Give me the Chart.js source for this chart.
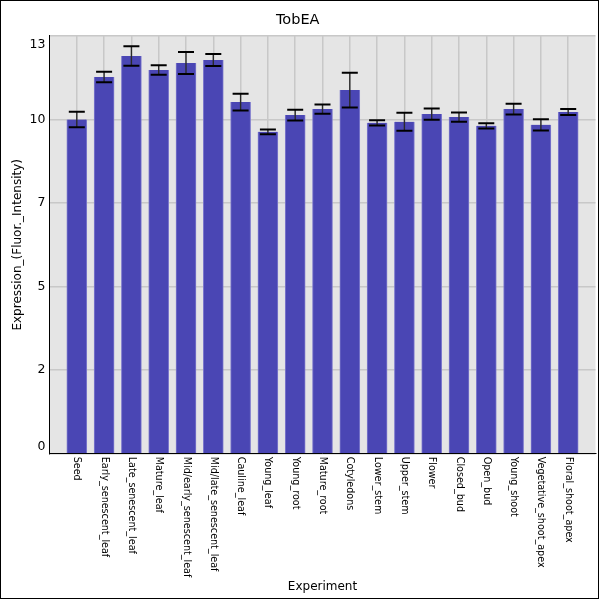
<!DOCTYPE html>
<html>
<head>
<meta charset="utf-8">
<script src="https://cdn.jsdelivr.net/npm/chart.js@4"></script>
<style>
  body { margin: 0; background: #fff; }
  canvas { display: block; }
</style>
</head>
<body>
<canvas id="graph_tobea" width="600" height="600"></canvas>
<script>
/*------------------------------*/
/*          DATA TobEA          */
/*------------------------------*/
var experiments = ['Seed', 'Early_senescent_leaf', 'Late_senescent_leaf', 'Mature_leaf',
  'Mid/early_senescent_leaf', 'Mid/late_senescent_leaf', 'Cauline_leaf', 'Young_leaf',
  'Young_root', 'Mature_root', 'Cotyledons', 'Lower_stem', 'Upper_stem', 'Flower',
  'Closed_bud', 'Open_bud', 'Young_shoot', 'Vegetative_shoot_apex', 'Floral_shoot_apex']

var expression = [10.0, 11.27, 11.9, 11.48, 11.69, 11.78, 10.52, 9.63, 10.13, 10.31,
  10.88, 9.9, 9.93, 10.16, 10.07, 9.81, 10.31, 9.84, 10.22]

var errors = [0.23, 0.16, 0.29, 0.14, 0.33, 0.18, 0.25, 0.07, 0.16, 0.14,
  0.52, 0.08, 0.27, 0.17, 0.14, 0.08, 0.16, 0.17, 0.09]

var yTickValues = [0, 2.5, 5, 7.5, 10, 12.5]
var yTickLabels = ['0', '2', '5', '7', '10', '13']

/*------------------------------*/
/*           PLUGINS            */
/*------------------------------*/
var plotBackground = {
  id: 'plotBackground',
  beforeDraw: function (chart) {
    var c = chart.ctx, a = chart.chartArea
    c.save()
    c.fillStyle = '#fff'
    c.fillRect(0, 0, chart.width, chart.height)
    c.fillStyle = '#e5e5e5'
    c.fillRect(a.left, a.top, a.right - a.left, a.bottom - a.top)
    c.restore()
  }
}

var errorBars = {
  id: 'errorBars',
  afterDatasetsDraw: function (chart) {
    var c = chart.ctx
    var y = chart.scales.y
    var meta = chart.getDatasetMeta(0)
    c.save()
    meta.data.forEach(function (bar, i) {
      var top = y.getPixelForValue(expression[i] + errors[i])
      var bot = y.getPixelForValue(expression[i] - errors[i])
      c.strokeStyle = '#2a2a2a'
      c.lineWidth = 1.4
      c.beginPath()
      c.moveTo(bar.x, top)
      c.lineTo(bar.x, bot)
      c.stroke()
      c.strokeStyle = '#000'
      c.lineWidth = 2
      c.beginPath()
      c.moveTo(bar.x - 8, top)
      c.lineTo(bar.x + 8, top)
      c.moveTo(bar.x - 8, bot)
      c.lineTo(bar.x + 8, bot)
      c.stroke()
    })
    c.restore()
  }
}

var tickText = {
  id: 'tickText',
  afterDraw: function (chart) {
    var c = chart.ctx
    var x = chart.scales.x, y = chart.scales.y
    c.save()
    c.fillStyle = '#000'
    // category labels, turned clockwise
    c.font = '9.6px "DejaVu Sans"'
    c.textAlign = 'left'
    c.textBaseline = 'middle'
    experiments.forEach(function (name, i) {
      c.save()
      c.translate(x.getPixelForValue(i), x.top + 3)
      c.rotate(Math.PI / 2)
      c.fillText(name, 0, 0)
      c.restore()
    })
    // value labels, kept inside the plot height
    c.font = '12.5px "DejaVu Sans"'
    c.textAlign = 'right'
    yTickValues.forEach(function (v, i) {
      var py = Math.min(Math.max(y.getPixelForValue(v), y.top + 9), y.bottom - 6.5)
      c.fillText(yTickLabels[i], y.right - 4, py)
    })
    // outer frame
    c.strokeStyle = '#000'
    c.lineWidth = 1
    c.strokeRect(0.5, 0.5, 598, 598)
    c.restore()
  }
}

/*------------------------------*/
/*            CHART             */
/*------------------------------*/
var ctx_tobea = document.getElementById('graph_tobea').getContext('2d')

var data_tobea = {
  datasets: [{
    label: 'TobEA',
    data: experiments.map(function (name, i) { return { x: i, y: expression[i] } }),
    backgroundColor: 'rgb(74, 70, 180)',
    borderColor: 'rgb(125, 121, 205)',
    borderWidth: { left: 1, right: 1, top: 0, bottom: 0 },
    barThickness: 20
  }]
}

var config_tobea = {
  type: 'bar',
  data: data_tobea,
  options: {
    responsive: false,
    animation: false,
    layout: { padding: { left: 0, right: 4.5, top: 0, bottom: 0 } },
    plugins: {
      legend: { display: false },
      tooltip: { enabled: false },
      title: {
        display: true,
        text: 'TobEA',
        color: '#000',
        font: { family: 'DejaVu Sans', size: 14.5, weight: 'normal' },
        padding: { top: 11.5, bottom: 7 }
      }
    },
    scales: {
      x: {
        type: 'linear',
        offset: false,
        min: -1,
        max: 19,
        afterBuildTicks: function (scale) {
          scale.ticks = experiments.map(function (n, i) { return { value: i } })
        },
        afterFit: function (scale) { scale.height = 146.3 },
        ticks: { display: false },
        grid: { offset: false, color: 'rgb(200, 200, 200)', lineWidth: 1.5, drawTicks: false, tickLength: 0 },
        border: { display: true, color: '#000', width: 1 },
        title: {
          display: true,
          text: 'Experiment',
          color: '#000',
          font: { family: 'DejaVu Sans', size: 12 },
          padding: { top: 0, bottom: 6 }
        }
      },
      y: {
        min: 0,
        max: 12.5,
        afterBuildTicks: function (scale) {
          scale.ticks = yTickValues.map(function (v) { return { value: v } })
        },
        afterFit: function (scale) { scale.width = 49.5 },
        ticks: { display: false },
        grid: { color: 'rgb(200, 200, 200)', lineWidth: 1.5, drawTicks: false, tickLength: 0 },
        border: { display: true, color: '#000', width: 1 },
        title: {
          display: true,
          text: 'Expression_(Fluor._Intensity)',
          color: '#000',
          font: { family: 'DejaVu Sans', size: 12 },
          padding: { top: 10.5, bottom: 0 }
        }
      }
    }
  },
  plugins: [plotBackground, errorBars, tickText]
}

var graph_tobea = new Chart(ctx_tobea, config_tobea)
/*------------------------------*/
/*------------------------------*/
</script>
</body>
</html>
